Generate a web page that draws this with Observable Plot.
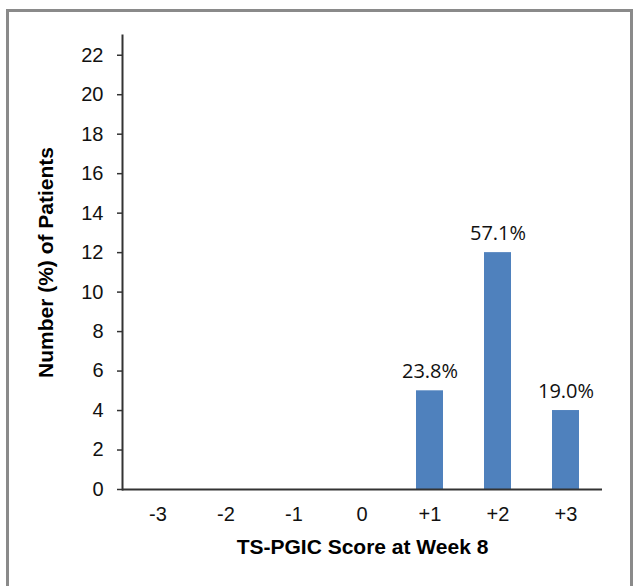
<!DOCTYPE html>
<html>
<head>
<meta charset="utf-8">
<script src="https://cdn.jsdelivr.net/npm/d3@7"></script>
<script src="https://cdn.jsdelivr.net/npm/@observablehq/plot@0.6"></script>
<style>
  html, body { margin: 0; padding: 0; background: #fff; overflow: hidden; }
  #wrap { position: relative; width: 639px; height: 586px; }
  #border { position: absolute; left: 6px; top: 9px; width: 621px; height: 600px; border: 3px solid #8a8a8a; box-sizing: content-box; pointer-events: none; }
  #chart { position: absolute; left: 0; top: 0; }
</style>
</head>
<body>
<div id="wrap"><div id="border"></div><div id="chart"></div></div>
<script>
const scores = ["-3", "-2", "-1", "0", "+1", "+2", "+3"];
const counts = [0, 0, 0, 0, 5, 12, 4];
const percentLabels = ["", "", "", "", "23.8%", "57.1%", "19.0%"];
const yTicks = [0, 2, 4, 6, 8, 10, 12, 14, 16, 18, 20, 22];

const data = scores.map((s, i) => ({score: s, count: counts[i], label: percentLabels[i]}));

const chart = Plot.plot({
  width: 639,
  height: 586,
  marginLeft: 122,
  marginRight: 37,
  marginTop: 35,
  marginBottom: 97,
  style: {fontFamily: "'Liberation Sans', Arial, sans-serif", fontSize: "20px", color: "#111", background: "transparent"},
  x: {domain: scores, paddingInner: 0.6, paddingOuter: 0.3},
  y: {domain: [0, 23]},
  marks: [
    Plot.barY(data, {x: "score", y: "count", fill: "#4F81BD"}),
    Plot.text(data.filter(d => d.label), {x: "score", y: "count", text: "label", lineAnchor: "bottom", dy: -13, fontSize: 20, fill: "#111", fontFamily: "'Open Sans', sans-serif"}),
    Plot.axisY({ticks: yTicks, tickSize: 5, tickFormat: () => "", stroke: "#333", strokeWidth: 1.5, label: "Number (%) of Patients", labelAnchor: "center", labelOffset: 84, labelArrow: "none"}),
    Plot.axisX({tickSize: 0, tickFormat: () => "", label: "TS-PGIC Score at Week 8", labelAnchor: "center", labelOffset: 64, labelArrow: "none"}),
    Plot.text(yTicks, {y: d => d, text: d => String(d), frameAnchor: "left", dx: -19, textAnchor: "end", lineAnchor: "middle", fontSize: 20, fill: "#111"}),
    Plot.text(scores, {x: d => d, text: d => d, frameAnchor: "bottom", dy: 25, lineAnchor: "middle", fontSize: 20, fill: "#111"}),
    Plot.frame({anchor: "left", stroke: "#333", strokeWidth: 2}),
    Plot.ruleY([0], {stroke: "#333", strokeWidth: 2})
  ]
});
chart.querySelectorAll("g[aria-label='y-axis label'] text, g[aria-label='x-axis label'] text").forEach(t => {
  t.style.fontSize = "21px"; t.style.fontWeight = "bold"; t.style.fill = "#000";
});
document.getElementById("chart").appendChild(chart);
</script>
</body>
</html>
